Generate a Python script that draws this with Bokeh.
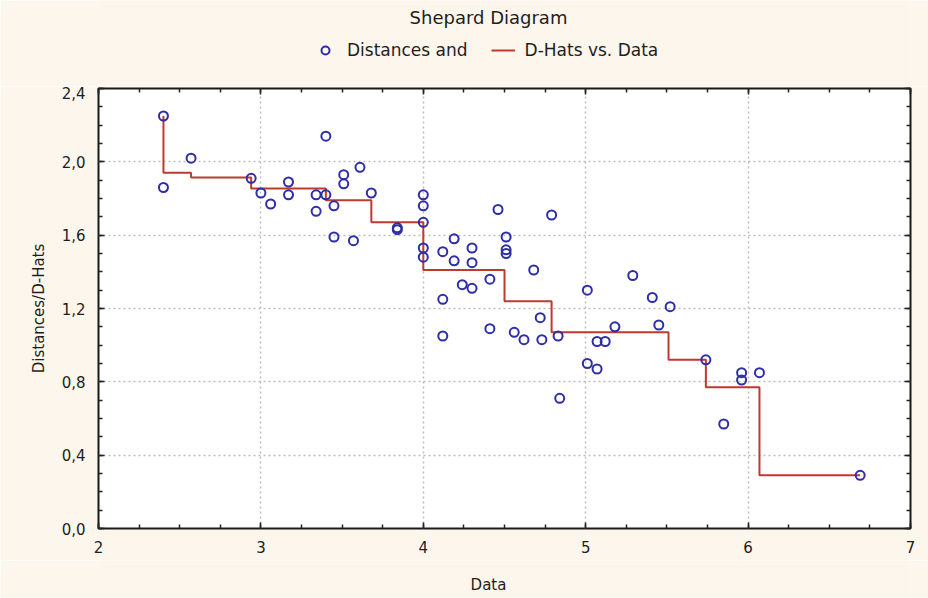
import numpy as np
from bokeh.plotting import figure
from bokeh.layouts import column
from bokeh.models import (Range1d, FixedTicker, LinearAxis, Legend, LegendItem, Label,
                          CustomLabelingPolicy)
from bokeh.embed import file_html
from bokeh.resources import INLINE

# ---------------- data ----------------
data_x = [2.40, 2.40, 2.57, 2.94, 3.00, 3.06, 3.17, 3.17, 3.34, 3.34,
          3.40, 3.40, 3.45, 3.45, 3.51, 3.51, 3.57, 3.61, 3.68, 3.84,
          3.84, 4.00, 4.00, 4.00, 4.00, 4.00, 4.12, 4.12, 4.12, 4.19,
          4.19, 4.24, 4.30, 4.30, 4.30, 4.41, 4.41, 4.46, 4.51, 4.51,
          4.51, 4.56, 4.62, 4.68, 4.72, 4.73, 4.79, 4.83, 4.84, 5.01,
          5.01, 5.07, 5.07, 5.12, 5.18, 5.29, 5.41, 5.45, 5.52, 5.74,
          5.85, 5.96, 5.96, 6.07, 6.69]
distances = [2.25, 1.86, 2.02, 1.91, 1.83, 1.77, 1.89, 1.82, 1.82, 1.73,
             1.82, 2.14, 1.76, 1.59, 1.93, 1.88, 1.57, 1.97, 1.83, 1.64,
             1.63, 1.82, 1.76, 1.67, 1.53, 1.48, 1.51, 1.25, 1.05, 1.58,
             1.46, 1.33, 1.53, 1.45, 1.31, 1.36, 1.09, 1.74, 1.59, 1.52,
             1.50, 1.07, 1.03, 1.41, 1.15, 1.03, 1.71, 1.05, 0.71, 1.30,
             0.90, 1.02, 0.87, 1.02, 1.10, 1.38, 1.26, 1.11, 1.21, 0.92,
             0.57, 0.85, 0.81, 0.85, 0.29]

dhat_x = [2.40, 2.40, 2.57, 2.94, 3.40, 3.68, 4.00, 4.50, 4.79, 5.51, 5.74, 6.07, 6.69]
dhat_y = [2.25, 1.94, 1.915, 1.855, 1.79, 1.67, 1.41, 1.24, 1.07, 0.92, 0.77, 0.29, 0.29]

x_ticks = [2, 3, 4, 5, 6, 7]
x_tick_labels = ["2", "3", "4", "5", "6", "7"]
y_ticks = [0.0, 0.4, 0.8, 1.2, 1.6, 2.0, 2.4]
y_tick_labels = ["0,0", "0,4", "0,8", "1,2", "1,6", "2,0", "2,4"]

title_text = "Shepard Diagram"
x_label = "Data"
y_label = "Distances/D-Hats"
legend_labels = ["Distances and", "D-Hats vs. Data"]

# ---------------- styling ----------------
PAGE_BG = "#fdf6ec"
POINT_COLOR = "#2e2ea8"
LINE_COLOR = "#bf3a2e"
TEXT_COLOR = "#1e1e1e"
FONT = "DejaVu Sans"
W = 928
HEAD_H, FOOT_H = 86, 38
MAIN_H = 598 - HEAD_H - FOOT_H
FRAME_L, FRAME_R = 98, 910          # frame edges in page pixels (frames align in the column)

POINT_STYLE = dict(marker="circle", size=9, fill_color=None, line_color=POINT_COLOR, line_width=2)
LINE_STYLE = dict(line_color=LINE_COLOR, line_width=2)

# ---------------- main plot ----------------
p = figure(width=W, height=MAIN_H, output_backend="svg", toolbar_location=None,
           x_range=Range1d(2, 7), y_range=Range1d(0, 2.4),
           min_border_left=FRAME_L, min_border_right=W - FRAME_R,
           min_border_top=2, min_border_bottom=32,
           background_fill_color="white", border_fill_color=PAGE_BG,
           outline_line_color="#1a1a1a", outline_line_width=2)

x_minor = [2 + 0.25 * i for i in range(21)]
y_minor = [round(0.1 * i, 1) for i in range(25)]

xticker = FixedTicker(ticks=x_ticks, minor_ticks=x_minor)
yticker = FixedTicker(ticks=y_ticks, minor_ticks=y_minor)


def style_axis(ax):
    ax.axis_line_color = None
    ax.major_tick_in = 6
    ax.major_tick_out = 0
    ax.minor_tick_in = 4
    ax.minor_tick_out = 0
    ax.major_tick_line_color = "#222222"
    ax.minor_tick_line_color = "#222222"
    ax.major_tick_line_width = 1.5
    ax.minor_tick_line_width = 1.5
    ax.major_label_text_font = FONT
    ax.major_label_text_font_size = "15px"
    ax.major_label_text_color = TEXT_COLOR


p.xaxis.ticker = xticker
p.yaxis.ticker = yticker
p.xaxis.major_label_overrides = {t: l for t, l in zip(x_ticks, x_tick_labels)}
p.yaxis.major_label_overrides = {t: l for t, l in zip(y_ticks, y_tick_labels)}
style_axis(p.xaxis[0])
style_axis(p.yaxis[0])
p.xaxis.major_label_standoff = 12
p.yaxis.major_label_standoff = 13

p.yaxis.axis_label = y_label
p.yaxis.axis_label_text_font = FONT
p.yaxis.axis_label_text_font_size = "15px"
p.yaxis.axis_label_text_font_style = "normal"
p.yaxis.axis_label_text_color = TEXT_COLOR
p.yaxis.axis_label_standoff = 11

# frame ticks on the top and right sides (their labels are not drawn)
hide_all = CustomLabelingPolicy(code="for (const i of indices) indices.unset(i)")
top_axis = LinearAxis(ticker=xticker)
right_axis = LinearAxis(ticker=yticker)
for ax in (top_axis, right_axis):
    style_axis(ax)
    ax.major_label_text_font_size = "0px"
    ax.major_label_policy = hide_all
    ax.major_label_standoff = 0
p.add_layout(top_axis, "above")
p.add_layout(right_axis, "right")

p.xgrid.ticker = xticker
p.ygrid.ticker = yticker
for g in (p.xgrid[0], p.ygrid[0]):
    g.grid_line_color = "#bcbcbc"
    g.grid_line_dash = "2 3"
    g.grid_line_width = 1.5

p.step(dhat_x, dhat_y, mode="after", **LINE_STYLE)
p.scatter(data_x, distances, **POINT_STYLE)


def text_strip(height):
    # a strip whose frame coordinates equal page pixels (x) / strip pixels (y)
    f = figure(width=W, height=height, output_backend="svg", toolbar_location=None,
               x_range=Range1d(FRAME_L, FRAME_R), y_range=Range1d(0, height),
               x_axis_type=None, y_axis_type=None, min_border=0,
               min_border_left=FRAME_L, min_border_right=W - FRAME_R,
               background_fill_color=PAGE_BG, border_fill_color=PAGE_BG,
               outline_line_color=None)
    return f


# ---------------- header: title + legend ----------------
head = text_strip(HEAD_H)
head.add_layout(Label(x=488, y=HEAD_H - 17, text=title_text, text_align="center",
                      text_baseline="middle", text_font=FONT, text_font_size="18px",
                      text_color=TEXT_COLOR))
# legend proxies (not visible in the strip, only used for the legend symbols)
lg_pts = head.scatter(x=np.array([np.nan]), y=np.array([np.nan]), **POINT_STYLE)
lg_line = head.line(x=np.array([np.nan, np.nan]), y=np.array([np.nan, np.nan]), **LINE_STYLE)
legend = Legend(items=[LegendItem(label=legend_labels[0], renderers=[lg_pts]),
                       LegendItem(label=legend_labels[1], renderers=[lg_line])],
                location=(313 - FRAME_L, HEAD_H - 60), orientation="horizontal",
                border_line_color=None, background_fill_alpha=0,
                padding=0, margin=0, glyph_width=24, glyph_height=20,
                label_standoff=10, spacing=23, label_height=20,
                label_text_font=FONT, label_text_font_size="17px",
                label_text_color=TEXT_COLOR)
head.add_layout(legend)

# ---------------- footer: x axis title ----------------
foot = text_strip(FOOT_H)
foot.add_layout(Label(x=488, y=FOOT_H - 24, text=x_label, text_align="center",
                      text_baseline="middle", text_font=FONT, text_font_size="15px",
                      text_color=TEXT_COLOR))

layout = column(head, p, foot, spacing=0)

html = file_html(layout, INLINE)
html = html.replace("<body>", '<body style="background-color:%s;">' % PAGE_BG, 1)
open("out.html", "w").write(html)
